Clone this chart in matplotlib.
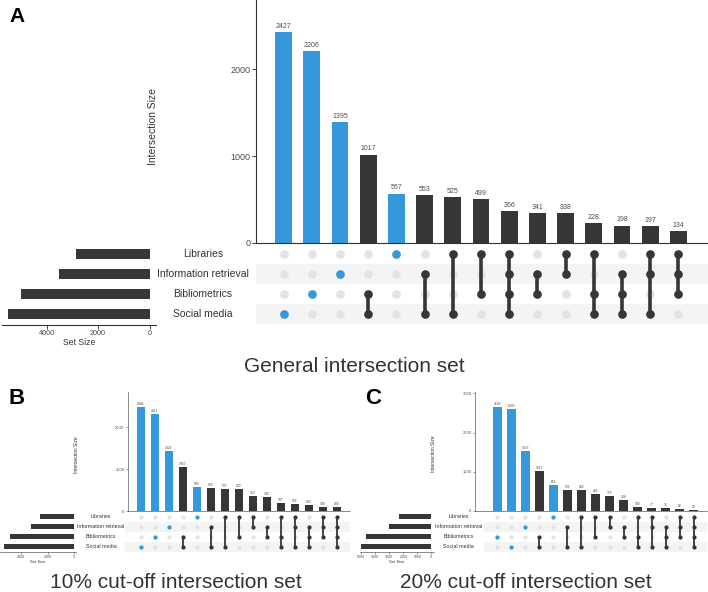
import matplotlib
matplotlib.use("Agg")
import matplotlib.pyplot as plt
import matplotlib.transforms as mtransforms
import warnings

warnings.filterwarnings("ignore")

# sets, top row to bottom row
set_names = ["Libraries", "Information retrieval", "Bibliometrics", "Social media"]

L, IR, B, SM = set_names

# panel A: general intersection set
combos_a = [(SM,), (B,), (IR,), (B, SM), (L,), (IR, SM), (L, SM), (L, B),
            (L, IR, B, SM), (IR, B), (L, IR), (L, B, SM), (IR, B, SM),
            (L, IR, SM), (L, IR, B)]
sizes_a = [2427, 2206, 1395, 1017, 567, 553, 525, 499, 366, 341, 338, 228, 198, 197, 134]
set_sizes_a = [2854, 3522, 4989, 5511]

# panel B: 10% cut-off
combos_b = [(SM,), (B,), (IR,), (B, SM), (L,), (IR, SM), (L, SM), (L, B),
            (L, IR), (IR, B), (L, B, SM), (L, IR, SM), (IR, B, SM),
            (L, IR, B), (L, IR, B, SM)]
sizes_b = [2484, 2311, 1424, 1050, 585, 560, 537, 522, 363, 340, 197, 166, 150, 109, 109]
set_sizes_b = [2600, 3250, 4810, 5270]

# panel C: 20% cut-off
combos_c = [(B,), (SM,), (IR,), (B, SM), (L,), (IR, SM), (L, SM), (L, B),
            (L, IR), (IR, B), (L, B, SM), (L, IR, SM), (IR, B, SM),
            (L, IR, B), (L, IR, B, SM)]
sizes_c = [2643, 2600, 1537, 1013, 651, 535, 526, 425, 375, 288, 100, 77, 75, 52, 20]
set_sizes_c = [2300, 3020, 4660, 5020]

BLUE = "#3598db"
DARK = "#363636"
GREY_DOT = "#e3e3e3"
STRIPE = "#f4f4f4"
TXT = "#333333"
TICK = "#4d4d4d"

plt.rcParams["font.family"] = ["Liberation Sans", "DejaVu Sans"]

W, H = 708, 592
fig = plt.figure(figsize=(W / 100, H / 100), dpi=100)


def box(x0, y0, x1, y1):
    # pixel box (top-left origin) -> figure fraction
    return [x0 / W, 1 - y1 / H, (x1 - x0) / W, (y1 - y0) / H]


def draw_upset(combos, sizes, set_sizes, lay, fs):
    n = len(combos)
    cols = list(range(n))
    rows = {name: len(set_names) - 1 - k for k, name in enumerate(set_names)}

    # intersection size bars
    ax = fig.add_axes(box(*lay["bars"]))
    colors = [BLUE if len(c) == 1 else DARK for c in combos]
    ax.bar(cols, sizes, width=0.6, color=colors)
    for x, v in zip(cols, sizes):
        ax.annotate(str(v), (x, v), xytext=(0, fs["val_pad"]), textcoords="offset points",
                    ha="center", va="bottom", fontsize=fs["val"], color=TICK)
    ax.set_xlim(*lay["xlim"])
    ax.set_ylim(0, lay["ymax"])
    ax.set_yticks(lay["yticks"])
    ax.set_xticks([])
    ax.tick_params(axis="y", labelsize=fs["tick"], colors=TICK, length=fs["ticklen"],
                   width=fs["spw"], pad=1)
    for s in ["top", "right"]:
        ax.spines[s].set_visible(False)
    for s in ["left", "bottom"]:
        ax.spines[s].set_linewidth(fs["spw"])
        ax.spines[s].set_color(TXT)
    ax.patch.set_alpha(0)
    fig.text(lay["ylab"][0] / W, 1 - lay["ylab"][1] / H, "Intersection Size", rotation=90,
             ha="center", va="center", fontsize=fs["ylab"], color=TXT)

    # matrix of dots
    mx = fig.add_axes(box(*lay["matrix"]))
    mx.set_xlim(lay["mxlim"])
    mx.set_ylim(-0.5, len(set_names) - 0.5)
    for name in (IR, SM):
        r = rows[name]
        mx.axhspan(r - 0.5, r + 0.5, color=STRIPE, lw=0, zorder=0)
    for x, combo in zip(cols, combos):
        mx.plot([x] * len(set_names), list(rows.values()), "o", color=GREY_DOT,
                ms=fs["dot"], mec="none", zorder=1)
        ys = [rows[s] for s in combo]
        col = BLUE if len(combo) == 1 else DARK
        mx.plot([x, x], [min(ys), max(ys)], "-", color=col, lw=fs["line"],
                solid_capstyle="butt", zorder=2)
        mx.plot([x] * len(ys), ys, "o", color=col, ms=fs["dot"], mec="none", zorder=3)
    mx.axis("off")

    # set size bars
    sx = fig.add_axes(box(*lay["sets"]))
    sy = [rows[s] for s in set_names]
    sx.barh(sy, set_sizes, height=0.5, color=DARK)
    sx.set_xlim(*lay["sxlim"])
    sx.set_ylim(-0.5, len(set_names) - 0.5)
    sx.set_xticks(lay["sxticks"])
    sx.set_yticks([])
    sx.tick_params(axis="x", labelsize=fs["stick"], colors=TICK, length=fs["ticklen"],
                   width=fs["spw"], pad=1)
    sx.set_xlabel("Set Size", fontsize=fs["slab"], color=TXT, labelpad=fs["slabpad"])
    for s in ["top", "right", "left"]:
        sx.spines[s].set_visible(False)
    sx.spines["bottom"].set_linewidth(fs["spw"])
    sx.spines["bottom"].set_color(TXT)
    sx.patch.set_alpha(0)

    trans = mtransforms.blended_transform_factory(fig.transFigure, sx.transData)
    for name in set_names:
        fig.text(lay["labx"] / W, rows[name], name, transform=trans, ha="center", va="center",
                 fontsize=fs["setlab"], color=TXT)

    fig.text(lay["letter"][0] / W, 1 - lay["letter"][1] / H, lay["tag"], ha="center",
             va="center", fontsize=fs["tag"], fontweight="bold", color="black")
    fig.text(lay["title"][0] / W, 1 - lay["title"][1] / H, lay["name"], ha="center",
             va="center", fontsize=fs["title"], color=TXT)


big = dict(val=5, val_pad=1.5, tick=6.5, stick=5.2, ticklen=3, spw=0.8, ylab=7.5,
           dot=6.2, line=2.6, slab=6.2, slabpad=1, setlab=7.5, tag=15, title=15)
small = dict(val=2.4, val_pad=0.8, tick=3.0, stick=2.6, ticklen=1.5, spw=0.4, ylab=3.5,
             dot=3.0, line=1.3, slab=3.0, slabpad=0.5, setlab=3.8, tag=16, title=15)

lay_a = dict(bars=(256, 0, 708, 242.7), xlim=(-0.98, 15.05), ymax=2800, yticks=[0, 1000, 2000],
             ylab=(153.5, 127), matrix=(256, 244, 708, 324), mxlim=(-0.98, 15.05),
             sets=(2, 244, 156, 324.5), sxlim=(5740, -250), sxticks=[0, 2000, 4000],
             labx=203, letter=(17, 17), tag="A", title=(354, 366),
             name="General intersection set")
lay_b = dict(bars=(127.7, 391.7, 350, 511.3), xlim=(-0.93, 14.95), ymax=2840,
             yticks=[0, 1000, 2000], ylab=(77, 455), matrix=(125, 511.7, 350, 551.7),
             mxlim=(-1.12, 14.95), sets=(0, 511.7, 76, 551.7), sxlim=(5585, -150),
             sxticks=[0, 2000, 4000], labx=101, letter=(17, 398), tag="B",
             title=(176, 582), name="10% cut-off intersection set")
lay_c = dict(bars=(475, 391.7, 706.7, 511), xlim=(-1.59, 14.93), ymax=3040,
             yticks=[0, 1000, 2000, 3000], ylab=(434, 454), matrix=(484, 511.7, 706.7, 551.7),
             mxlim=(-0.95, 14.93), sets=(360, 511.7, 434, 551.7), sxlim=(5093, -190),
             sxticks=[0, 1000, 2000, 3000, 4000, 5000], labx=458.5, letter=(373, 398),
             tag="C", title=(526, 582), name="20% cut-off intersection set")

draw_upset(combos_a, sizes_a, set_sizes_a, lay_a, big)
draw_upset(combos_b, sizes_b, set_sizes_b, lay_b, small)
draw_upset(combos_c, sizes_c, set_sizes_c, lay_c, small)

fig.savefig("out.png", dpi=100)
